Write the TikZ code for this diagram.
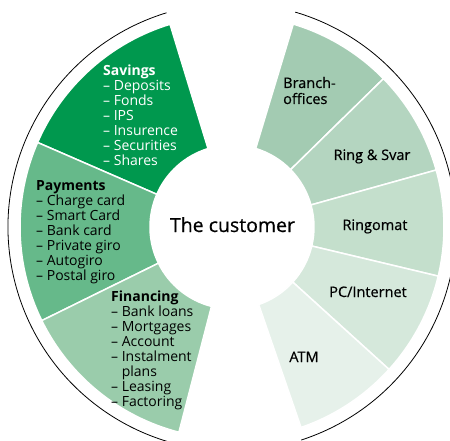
\documentclass[tikz,border=0pt]{standalone}
\usepackage{fontspec}
\setmainfont{Open Sans}
\newfontfamily\medfont[FakeBold=0.6]{Open Sans}
\definecolor{cSav}{HTML}{00984E}
\definecolor{cPay}{HTML}{66B98A}
\definecolor{cFin}{HTML}{9ACCAB}
\definecolor{cBra}{HTML}{A3CBB2}
\definecolor{cRin}{HTML}{B4D5C0}
\definecolor{cRgm}{HTML}{C4DFCC}
\definecolor{cPC}{HTML}{D5E8DB}
\definecolor{cATM}{HTML}{E6F1EA}
\tikzset{
  item/.style={inner sep=0pt, anchor=base west, font=\fontsize{14}{15}\selectfont},
  lab/.style={inner sep=0pt, anchor=base, font=\medfont\fontsize{14.5}{16}\selectfont},
  seg/.style={draw=white, line width=1.5pt},
  rim/.style={draw=black, line width=0.8pt}
}
\newcommand\mysect[3]{\path[seg,fill=#1] (#2:82) -- (#2:212) arc[start angle=#2,end angle=#3,radius=212] -- (#3:82) arc[start angle=#3,end angle=#2,radius=82] -- cycle;}
\newcommand\listblock[5]{%
  \foreach \t [count=\i from 0] in {#5} {\node[item,text=#4] (#1\i) at (#2,{#3-15*\i}) {\t};}}
\begin{document}
\begin{tikzpicture}[x=1pt,y=1pt]
\useasboundingbox (0,0) rectangle (450,440);
\begin{scope}
\clip (0,0) rectangle (450,440);
\begin{scope}[shift={(232,213)}]
  % left group
  \mysect{cSav}{107}{156.5}
  \mysect{cPay}{156.5}{206.2}
  \mysect{cFin}{206.2}{255.5}
  % right group
  \mysect{cBra}{73.2}{44.4}
  \mysect{cRin}{44.4}{15.6}
  \mysect{cRgm}{15.6}{-13.4}
  \mysect{cPC}{-13.4}{-42.2}
  \mysect{cATM}{-42.2}{-71}
  % outer rims
  \draw[rim] (107:224) arc[start angle=107,end angle=256,radius=224];
  \draw[rim] (-72:224) arc[start angle=-72,end angle=73.6,radius=224];
\end{scope}
\end{scope}
% texts
\listblock{sav}{103}{364}{white}{\textbf{Savings},–~Deposits,–~Fonds,–~IPS,–~Insurence,–~Securities,–~Shares}
\listblock{pay}{36}{250}{black}{\textbf{Payments},–~Charge card,–~Smart Card,–~Bank card,–~Private giro,–~Autogiro,–~Postal giro}
\listblock{fin}{111}{139}{black}{\textbf{Financing},–~Bank loans,–~Mortgages,–~Account,–~Instalment,\phantom{–~}plans,–~Leasing,–~Factoring}
\node[lab,anchor=base west] (bra1) at (283,352) {Branch-};
\node[lab,anchor=base west] (bra2) at (283,336) {offices};
\node[lab] (rin) at (372,280) {Ring \& Svar};
\node[lab] (rgm) at (375,210) {Ringomat};
\node[lab] (pc) at (368,143) {PC/Internet};
\node[lab] (atm) at (304,78) {ATM};
\node[inner sep=0pt, anchor=base, font=\medfont\fontsize{19.5}{22}\selectfont] (cust) at (232.5,208) {The customer};
\end{tikzpicture}
\end{document}
